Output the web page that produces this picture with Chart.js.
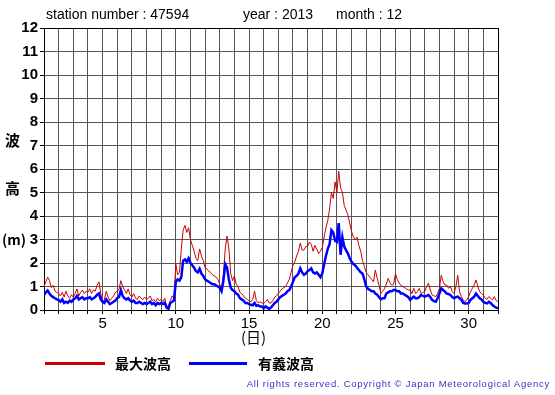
<!DOCTYPE html>
<html>
<head>
<meta charset="utf-8">
<script src="https://cdn.jsdelivr.net/npm/chart.js@4"></script>
<style>
  body { margin: 0; background: #fff; }
  #wrap { position: relative; width: 555px; height: 395px; font-family: "Liberation Sans", Arial, sans-serif; }
  .t { position: absolute; white-space: nowrap; color: #000; }
  .lbl { font-family: "Noto Sans CJK JP", sans-serif; font-weight: bold; font-size: 15px; }
  .legline { position: absolute; height: 3px; }
</style>
</head>
<body>
<div id="wrap">
  <canvas id="waveChart" width="555" height="395"></canvas>
  <div class="t" style="left:46px; top:6px; font-size:14px;">station number : 47594</div>
  <div class="t" style="left:243px; top:6px; font-size:14px;">year : 2013</div>
  <div class="t" style="left:336px; top:6px; font-size:14px;">month : 12</div>
  <div class="t lbl" style="left:5px; top:129px;">波</div>
  <div class="t lbl" style="left:5px; top:177px;">高</div>
  <div class="t lbl" style="left:2px; top:229px; font-size:14px;">(m)</div>
  <div class="t" style="left:241px; top:326px; font-size:15px; font-family:'Noto Sans CJK JP', sans-serif;">(日)</div>
  <div class="legline" style="left:45px; top:362px; width:60px; background:#cc0000;"></div>
  <div class="t lbl" style="left:115px; top:353px; font-size:14px;">最大波高</div>
  <div class="legline" style="left:189px; top:362px; width:58px; background:#0000ff;"></div>
  <div class="t lbl" style="left:258px; top:353px; font-size:14px;">有義波高</div>
  <div class="t" style="right:5px; top:378px; font-size:9.5px; letter-spacing:0.75px; color:#3333cc;">All rights reserved. Copyright © Japan Meteorological Agency</div>
</div>
<script>
// 3-hourly readings, 8 per day, from day 1 00h to day 32 00h
const stepsPerDay = 8;
const firstDay = 1;

// 最大波高 (m)
const maxWave = [
  1.0, 1.2, 1.4, 1.25, 0.95, 1.05, 0.8, 0.75,
  0.7, 0.6, 0.75, 0.55, 0.8, 0.6, 0.5, 0.65,
  0.55, 0.7, 0.9, 0.6, 0.75, 0.85, 0.7, 0.8,
  0.75, 0.9, 0.7, 0.85, 0.8, 1.05, 1.2, 0.7,
  0.3, 0.45, 0.8, 0.55, 0.4, 0.5, 0.6, 0.75,
  0.8, 0.9, 1.25, 1.0, 0.85, 0.7, 0.9, 0.65,
  0.55, 0.7, 0.5, 0.45, 0.6, 0.5, 0.45, 0.55,
  0.45, 0.5, 0.6, 0.4, 0.45, 0.35, 0.5, 0.4,
  0.45, 0.35, 0.5, 0.1, 0.2, 0.4, 0.6, 0.5,
  1.95, 1.5, 1.6, 2.6, 3.4, 3.6, 3.3, 3.5,
  3.0, 2.75, 2.5, 2.2, 2.1, 2.6, 2.3, 2.1,
  1.8, 1.75, 1.65, 1.6, 1.5, 1.45, 1.4, 1.3,
  1.1, 0.9, 1.5, 2.6, 3.15, 2.6, 1.55, 1.25,
  1.45, 1.1, 1.0, 0.75, 0.7, 0.6, 0.5, 0.45,
  0.4, 0.35, 0.45, 0.8, 0.4, 0.3, 0.35, 0.3,
  0.28, 0.35, 0.45, 0.3, 0.3, 0.4, 0.55, 0.6,
  0.7, 0.8, 0.9, 0.95, 1.0, 1.15, 1.3, 1.6,
  1.9, 2.05, 2.3, 2.5, 2.85, 2.55, 2.55, 2.7,
  2.7, 2.9, 2.8, 2.5, 2.75, 2.6, 2.4, 2.5,
  2.65, 3.1, 3.5, 3.8, 4.3, 5.0, 4.75, 5.45,
  5.0, 5.9, 5.2, 5.0, 4.45, 4.25, 4.05, 3.7,
  3.35, 3.1, 3.0, 3.1, 2.75, 2.5, 2.1, 1.85,
  1.6, 1.5, 1.4, 1.3, 1.2, 1.7, 1.35, 1.05,
  0.7, 0.8, 0.9, 1.1, 1.35, 1.15, 1.05, 1.1,
  1.55, 1.3, 1.15, 1.05, 1.0, 0.95, 0.9, 0.85,
  0.85, 0.7, 0.92, 0.7, 0.78, 0.92, 0.7, 0.75,
  0.78, 1.0, 1.14, 0.85, 0.64, 0.6, 0.57, 0.7,
  0.92, 1.48, 1.2, 1.06, 1.06, 0.92, 1.0, 0.78,
  0.7, 1.0, 1.48, 0.78, 0.57, 0.43, 0.35, 0.45,
  0.57, 0.78, 0.92, 1.06, 1.28, 1.0, 0.78, 0.7,
  0.64, 0.5, 0.45, 0.57, 0.5, 0.43, 0.57, 0.4,
  0.35
];

// 有義波高 (m)
const sigWave = [
  0.64, 0.75, 0.83, 0.7, 0.6, 0.55, 0.5, 0.45,
  0.42, 0.35, 0.45, 0.3, 0.35, 0.3, 0.4, 0.35,
  0.45, 0.5, 0.6, 0.45, 0.5, 0.55, 0.45, 0.5,
  0.5, 0.55, 0.45, 0.5, 0.55, 0.65, 0.7, 0.45,
  0.35, 0.3, 0.45, 0.35, 0.25, 0.3, 0.35, 0.4,
  0.5, 0.55, 0.85, 0.6, 0.5, 0.45, 0.5, 0.4,
  0.35, 0.4, 0.3, 0.3, 0.35, 0.3, 0.25, 0.3,
  0.25, 0.3, 0.35, 0.25, 0.3, 0.2, 0.3, 0.25,
  0.3, 0.25, 0.3, 0.1, 0.05, 0.3, 0.35, 0.4,
  1.2, 1.3, 1.25, 1.4, 2.1, 2.15, 2.05, 2.2,
  2.0, 1.9, 1.8, 1.65, 1.6, 1.75, 1.55, 1.45,
  1.3, 1.25, 1.2, 1.15, 1.1, 1.1, 1.05, 1.0,
  0.95, 0.8, 1.25, 1.95, 1.8, 1.3, 0.95, 0.85,
  0.8, 0.7, 0.65, 0.5, 0.45, 0.4, 0.3, 0.3,
  0.25, 0.22, 0.2, 0.3, 0.18, 0.2, 0.15, 0.15,
  0.07, 0.15, 0.1, 0.05, 0.1, 0.2, 0.3, 0.35,
  0.45, 0.55, 0.6, 0.65, 0.7, 0.8, 0.85, 1.0,
  1.2, 1.4, 1.45, 1.55, 1.77, 1.6, 1.5, 1.55,
  1.65, 1.7, 1.77, 1.6, 1.55, 1.6, 1.5, 1.4,
  1.55, 1.95, 2.3, 2.6, 2.8, 3.4, 3.3, 2.95,
  2.9, 3.7, 2.35, 3.1, 2.7, 2.55, 2.4, 2.2,
  2.05, 1.95, 1.9, 1.8, 1.7, 1.6, 1.55, 1.3,
  1.0, 0.9, 0.85, 0.8, 0.8, 0.7, 0.65, 0.55,
  0.45, 0.5, 0.5, 0.7, 0.75, 0.8, 0.8, 0.85,
  0.85, 0.8, 0.8, 0.7, 0.7, 0.65, 0.6, 0.55,
  0.43, 0.5, 0.57, 0.5, 0.5, 0.55, 0.64, 0.6,
  0.57, 0.6, 0.64, 0.55, 0.43, 0.38, 0.35, 0.5,
  0.7, 0.92, 0.85, 0.78, 0.7, 0.68, 0.64, 0.55,
  0.5, 0.55, 0.57, 0.5, 0.43, 0.3, 0.28, 0.28,
  0.3, 0.43, 0.5, 0.57, 0.7, 0.6, 0.5, 0.45,
  0.35, 0.3, 0.28, 0.35, 0.3, 0.21, 0.15, 0.1,
  0.07
];

const dayMin = 1, dayMax = 32;
const heightMin = 0, heightMax = 12;
const dayLabels = [5, 10, 15, 20, 25, 30];

function toPoints(arr) {
  return arr.map((v, i) => ({ x: firstDay + i / stepsPerDay, y: v }));
}

// outer frame lines black, inner grid grey
const edgeColor = max => ctx => (ctx.tick && ctx.tick.value === max) ? "#000" : "#555";

new Chart(document.getElementById("waveChart"), {
  type: "line",
  data: {
    datasets: [
      { label: "有義波高", data: toPoints(sigWave), borderColor: "#0000ff", borderWidth: 2.5, pointRadius: 0, order: 0 },
      { label: "最大波高", data: toPoints(maxWave), borderColor: "#cc0000", borderWidth: 1, pointRadius: 0, order: 1 }
    ]
  },
  options: {
    responsive: false,
    animation: false,
    layout: { padding: { left: 0, right: 57, top: 28, bottom: 0 } },
    plugins: { legend: { display: false }, tooltip: { enabled: false } },
    scales: {
      x: {
        type: "linear",
        min: dayMin,
        max: dayMax,
        afterFit: s => { s.height = 85; },
        grid: { color: edgeColor(dayMax), tickColor: "#000", tickLength: 4, lineWidth: 1 },
        border: { color: "#000", width: 1 },
        ticks: {
          stepSize: 1,
          autoSkip: false,
          maxRotation: 0,
          padding: 1,
          color: "#000",
          font: { family: "'Liberation Sans', Arial", size: 15 },
          callback: v => dayLabels.includes(v) ? String(v) : ""
        }
      },
      y: {
        min: heightMin,
        max: heightMax,
        afterFit: s => { s.width = 44; },
        grid: { color: edgeColor(heightMax), tickColor: "#000", tickLength: 4, lineWidth: 1 },
        border: { color: "#000", width: 1 },
        ticks: {
          stepSize: 1,
          padding: 2,
          color: "#000",
          font: { family: "'Liberation Sans', Arial", size: 15, weight: "bold" }
        }
      }
    }
  }
});
</script>
</body>
</html>
